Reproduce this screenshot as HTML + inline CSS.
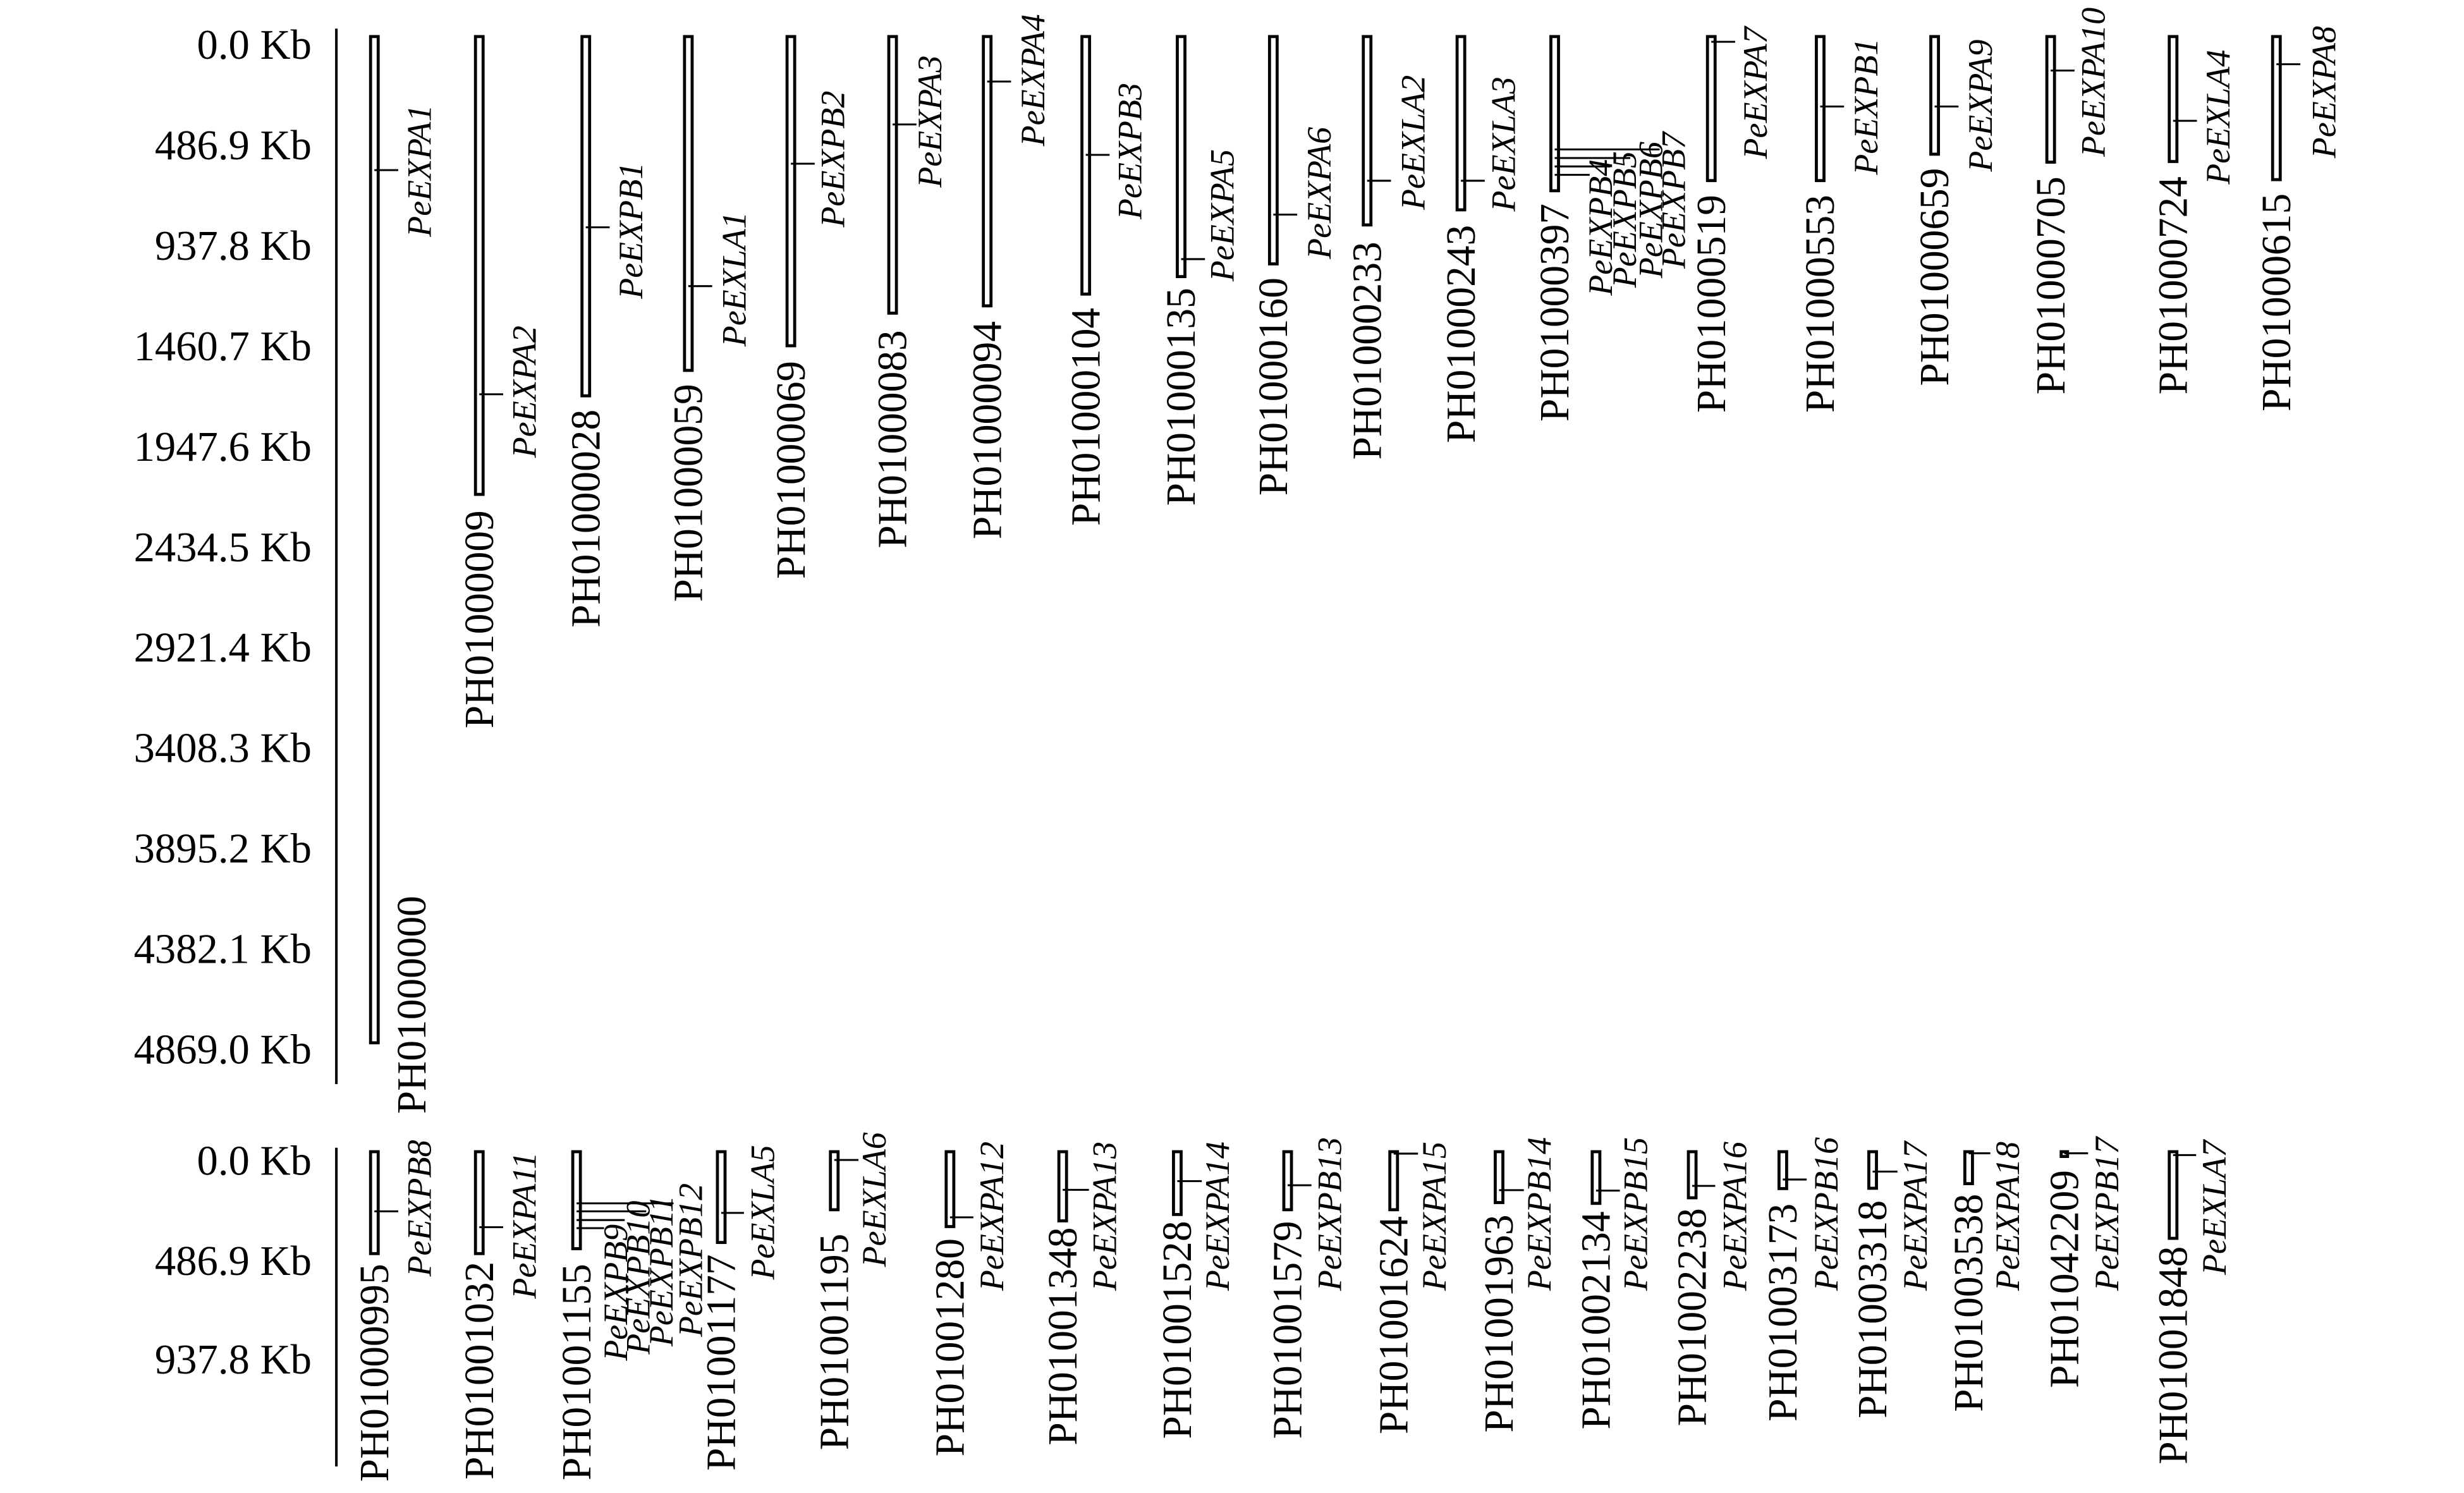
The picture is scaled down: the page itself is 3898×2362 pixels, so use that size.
<!DOCTYPE html>
<html><head><meta charset="utf-8"><style>
html,body{margin:0;padding:0;background:#fff;}
svg{display:block;}
text{font-family:"Liberation Serif",serif;fill:#000;}
.t{font-size:26.5px;}
.c{font-size:26px;}
.g{font-size:21.5px;font-style:italic;}
rect{fill:#fff;stroke:#000;stroke-width:1.9;}
line{stroke:#000;stroke-width:1.2;}
</style></head><body>
<svg width="3898" height="2362" viewBox="0 0 1550 939.2" preserveAspectRatio="none" xmlns="http://www.w3.org/2000/svg">
<line x1="211.6" y1="18" x2="211.6" y2="682" style="stroke-width:1.6"/>
<g class="t" text-anchor="end">
<text x="196" y="37">0.0 Kb</text>
<text x="196" y="100.2">486.9 Kb</text>
<text x="196" y="163.4">937.8 Kb</text>
<text x="196" y="226.6">1460.7 Kb</text>
<text x="196" y="289.8">1947.6 Kb</text>
<text x="196" y="353">2434.5 Kb</text>
<text x="196" y="416.2">2921.4 Kb</text>
<text x="196" y="479.4">3408.3 Kb</text>
<text x="196" y="542.6">3895.2 Kb</text>
<text x="196" y="605.8">4382.1 Kb</text>
<text x="196" y="669">4869.0 Kb</text>
</g>
<rect x="233.1" y="23" width="4.8" height="633"/>
<rect x="299.1" y="23" width="4.8" height="288"/>
<rect x="366.1" y="23" width="4.8" height="226"/>
<rect x="430.6" y="23" width="4.8" height="210"/>
<rect x="495.1" y="23" width="4.8" height="194.5"/>
<rect x="559.1" y="23" width="4.8" height="174"/>
<rect x="618.6" y="23" width="4.8" height="169.4"/>
<rect x="680.6" y="23" width="4.8" height="162"/>
<rect x="740.6" y="23" width="4.8" height="151"/>
<rect x="798.6" y="23" width="4.8" height="143"/>
<rect x="857.6" y="23" width="4.8" height="118.5"/>
<rect x="916.6" y="23" width="4.8" height="109"/>
<rect x="975.6" y="23" width="4.8" height="97"/>
<rect x="1074.1" y="23" width="4.8" height="90.6"/>
<rect x="1142.6" y="23" width="4.8" height="90.6"/>
<rect x="1214.6" y="23" width="4.8" height="74"/>
<rect x="1287.6" y="23" width="4.8" height="79"/>
<rect x="1364.6" y="23" width="4.8" height="78.6"/>
<rect x="1429.6" y="23" width="4.8" height="90"/>
<line x1="235.5" y1="107" x2="250.5" y2="107"/>
<line x1="301.5" y1="248" x2="316.5" y2="248"/>
<line x1="368.5" y1="143" x2="383.5" y2="143"/>
<line x1="433" y1="180" x2="448" y2="180"/>
<line x1="497.5" y1="103" x2="512.5" y2="103"/>
<line x1="561.5" y1="78.3" x2="576.5" y2="78.3"/>
<line x1="621" y1="51.3" x2="636" y2="51.3"/>
<line x1="683" y1="97.4" x2="698" y2="97.4"/>
<line x1="743" y1="163" x2="758" y2="163"/>
<line x1="801" y1="135" x2="816" y2="135"/>
<line x1="860" y1="113.7" x2="875" y2="113.7"/>
<line x1="919" y1="113.7" x2="934" y2="113.7"/>
<line x1="978" y1="94" x2="1044" y2="94"/>
<line x1="978" y1="99.4" x2="1025.5" y2="99.4"/>
<line x1="978" y1="104.7" x2="1013" y2="104.7"/>
<line x1="978" y1="110" x2="1000" y2="110"/>
<line x1="1076.5" y1="26.3" x2="1091.5" y2="26.3"/>
<line x1="1145" y1="67" x2="1160" y2="67"/>
<line x1="1217" y1="67" x2="1232" y2="67"/>
<line x1="1290" y1="44.4" x2="1305" y2="44.4"/>
<line x1="1367" y1="76" x2="1382" y2="76"/>
<line x1="1432" y1="40.4" x2="1447" y2="40.4"/>
<g class="c" text-anchor="end">
<text transform="translate(267.6,563.5) rotate(-90)">PH01000000</text>
<text transform="translate(310.1,321) rotate(-90)">PH01000009</text>
<text transform="translate(377.1,257.6) rotate(-90)">PH01000028</text>
<text transform="translate(441.6,241.5) rotate(-90)">PH01000059</text>
<text transform="translate(506.1,227) rotate(-90)">PH01000069</text>
<text transform="translate(570.1,207.7) rotate(-90)">PH01000083</text>
<text transform="translate(629.6,202) rotate(-90)">PH01000094</text>
<text transform="translate(691.6,193.6) rotate(-90)">PH01000104</text>
<text transform="translate(751.6,181) rotate(-90)">PH01000135</text>
<text transform="translate(809.6,174.6) rotate(-90)">PH01000160</text>
<text transform="translate(868.6,152) rotate(-90)">PH01000233</text>
<text transform="translate(927.6,141.5) rotate(-90)">PH01000243</text>
<text transform="translate(986.6,128) rotate(-90)">PH01000397</text>
<text transform="translate(1085.1,122.5) rotate(-90)">PH01000519</text>
<text transform="translate(1153.6,122.5) rotate(-90)">PH01000553</text>
<text transform="translate(1225.6,105.6) rotate(-90)">PH01000659</text>
<text transform="translate(1298.6,111) rotate(-90)">PH01000705</text>
<text transform="translate(1375.6,111) rotate(-90)">PH01000724</text>
<text transform="translate(1440.6,121.6) rotate(-90)">PH01000615</text>
</g>
<g class="g">
<text transform="translate(271,149) rotate(-90)">PeEXPA1</text>
<text transform="translate(337,288) rotate(-90)">PeEXPA2</text>
<text transform="translate(404,188) rotate(-90)">PeEXPB1</text>
<text transform="translate(469,218) rotate(-90)">PeEXLA1</text>
<text transform="translate(531,143) rotate(-90)">PeEXPB2</text>
<text transform="translate(592,118) rotate(-90)">PeEXPA3</text>
<text transform="translate(657,92) rotate(-90)">PeEXPA4</text>
<text transform="translate(718,138) rotate(-90)">PeEXPB3</text>
<text transform="translate(776,177) rotate(-90)">PeEXPA5</text>
<text transform="translate(837,163) rotate(-90)">PeEXPA6</text>
<text transform="translate(896,132) rotate(-90)">PeEXLA2</text>
<text transform="translate(953,133) rotate(-90)">PeEXLA3</text>
<text transform="translate(1014,186) rotate(-90)">PeEXPB4</text>
<text transform="translate(1029,181) rotate(-90)">PeEXPB5</text>
<text transform="translate(1045.5,175) rotate(-90)">PeEXPB6</text>
<text transform="translate(1060,169) rotate(-90)">PeEXPB7</text>
<text transform="translate(1111.5,100) rotate(-90)">PeEXPA7</text>
<text transform="translate(1181,110) rotate(-90)">PeEXPB1</text>
<text transform="translate(1253,108) rotate(-90)">PeEXPA9</text>
<text transform="translate(1324,98.6) rotate(-90)">PeEXPA10</text>
<text transform="translate(1402.5,116) rotate(-90)">PeEXLA4</text>
<text transform="translate(1469,99.5) rotate(-90)">PeEXPA8</text>
</g>
<line x1="211.6" y1="722" x2="211.6" y2="922.5" style="stroke-width:1.6"/>
<g class="t" text-anchor="end">
<text x="196" y="739">0.0 Kb</text>
<text x="196" y="802">486.9 Kb</text>
<text x="196" y="864">937.8 Kb</text>
</g>
<rect x="233.1" y="724.5" width="4.8" height="64.1"/>
<rect x="299.1" y="724.5" width="4.8" height="64.1"/>
<rect x="360.3" y="724.5" width="4.8" height="61"/>
<rect x="451.3" y="724.5" width="4.8" height="57.1"/>
<rect x="522.4" y="724.5" width="4.8" height="36.5"/>
<rect x="595.2" y="724.5" width="4.8" height="47.1"/>
<rect x="666.1" y="724.5" width="4.8" height="43.5"/>
<rect x="738.2" y="724.5" width="4.8" height="39.5"/>
<rect x="807.6" y="724.5" width="4.8" height="36.5"/>
<rect x="874.3" y="724.5" width="4.8" height="36.5"/>
<rect x="940.6" y="724.5" width="4.8" height="32"/>
<rect x="1001.6" y="724.5" width="4.8" height="32.5"/>
<rect x="1062.1" y="724.5" width="4.8" height="29"/>
<rect x="1119.1" y="724.5" width="4.8" height="23.2"/>
<rect x="1175.6" y="724.5" width="4.8" height="23"/>
<rect x="1236" y="724.5" width="4.8" height="20.1"/>
<rect x="1296.6" y="724.5" width="4" height="3"/>
<rect x="1364.6" y="724.5" width="4.8" height="54.5"/>
<line x1="235.5" y1="762" x2="250.5" y2="762"/>
<line x1="301.5" y1="772" x2="316.5" y2="772"/>
<line x1="362.7" y1="757" x2="423.7" y2="757"/>
<line x1="362.7" y1="762" x2="406.5" y2="762"/>
<line x1="362.7" y1="767.5" x2="393" y2="767.5"/>
<line x1="362.7" y1="772.6" x2="380" y2="772.6"/>
<line x1="453.7" y1="763" x2="468" y2="763"/>
<line x1="524.8" y1="729.7" x2="540" y2="729.7"/>
<line x1="597.6" y1="765.8" x2="612.3" y2="765.8"/>
<line x1="668.5" y1="748.5" x2="685" y2="748.5"/>
<line x1="740.6" y1="743" x2="756" y2="743"/>
<line x1="810" y1="745.6" x2="825" y2="745.6"/>
<line x1="876.7" y1="725.7" x2="892" y2="725.7"/>
<line x1="943" y1="748.7" x2="958.6" y2="748.7"/>
<line x1="1004" y1="749" x2="1019" y2="749"/>
<line x1="1064.5" y1="746" x2="1079" y2="746"/>
<line x1="1121.5" y1="742" x2="1136.5" y2="742"/>
<line x1="1178" y1="737" x2="1193.6" y2="737"/>
<line x1="1238.4" y1="725.5" x2="1252" y2="725.5"/>
<line x1="1298.6" y1="725.5" x2="1313.5" y2="725.5"/>
<line x1="1367" y1="726.6" x2="1381.5" y2="726.6"/>
<g class="c" text-anchor="end">
<text transform="translate(244.1,795) rotate(-90)">PH01000995</text>
<text transform="translate(310.1,793.6) rotate(-90)">PH01001032</text>
<text transform="translate(371.3,795) rotate(-90)">PH01001155</text>
<text transform="translate(462.3,789) rotate(-90)">PH01001177</text>
<text transform="translate(533.4,776) rotate(-90)">PH01001195</text>
<text transform="translate(606.2,779) rotate(-90)">PH01001280</text>
<text transform="translate(677.1,772) rotate(-90)">PH01001348</text>
<text transform="translate(749.2,768) rotate(-90)">PH01001528</text>
<text transform="translate(818.6,768) rotate(-90)">PH01001579</text>
<text transform="translate(885.3,765) rotate(-90)">PH01001624</text>
<text transform="translate(951.6,764) rotate(-90)">PH01001963</text>
<text transform="translate(1012.6,762) rotate(-90)">PH01002134</text>
<text transform="translate(1073.1,760) rotate(-90)">PH01002238</text>
<text transform="translate(1130.1,757) rotate(-90)">PH01003173</text>
<text transform="translate(1186.6,755) rotate(-90)">PH01003318</text>
<text transform="translate(1247,751) rotate(-90)">PH01003538</text>
<text transform="translate(1307.2,736) rotate(-90)">PH01042209</text>
<text transform="translate(1375.6,784) rotate(-90)">PH01001848</text>
</g>
<g class="g">
<text transform="translate(271,803) rotate(-90)">PeEXPB8</text>
<text transform="translate(337,817) rotate(-90)">PeEXPA11</text>
<text transform="translate(394.5,856) rotate(-90)">PeEXPB9</text>
<text transform="translate(408.5,852) rotate(-90)">PeEXPB10</text>
<text transform="translate(423,847) rotate(-90)">PeEXPB11</text>
<text transform="translate(441.5,841) rotate(-90)">PeEXPB12</text>
<text transform="translate(487,805) rotate(-90)">PeEXLA5</text>
<text transform="translate(557,797) rotate(-90)">PeEXLA6</text>
<text transform="translate(631,812) rotate(-90)">PeEXPA12</text>
<text transform="translate(702,812) rotate(-90)">PeEXPA13</text>
<text transform="translate(773,812) rotate(-90)">PeEXPA14</text>
<text transform="translate(843.5,812) rotate(-90)">PeEXPB13</text>
<text transform="translate(909.5,812) rotate(-90)">PeEXPA15</text>
<text transform="translate(975.5,812) rotate(-90)">PeEXPB14</text>
<text transform="translate(1036,812) rotate(-90)">PeEXPB15</text>
<text transform="translate(1098.5,812) rotate(-90)">PeEXPA16</text>
<text transform="translate(1156,812) rotate(-90)">PeEXPB16</text>
<text transform="translate(1212,812) rotate(-90)">PeEXPA17</text>
<text transform="translate(1270,812) rotate(-90)">PeEXPA18</text>
<text transform="translate(1332.5,812) rotate(-90)">PeEXPB17</text>
<text transform="translate(1400,802) rotate(-90)">PeEXLA7</text>
</g>
</svg>
</body></html>
